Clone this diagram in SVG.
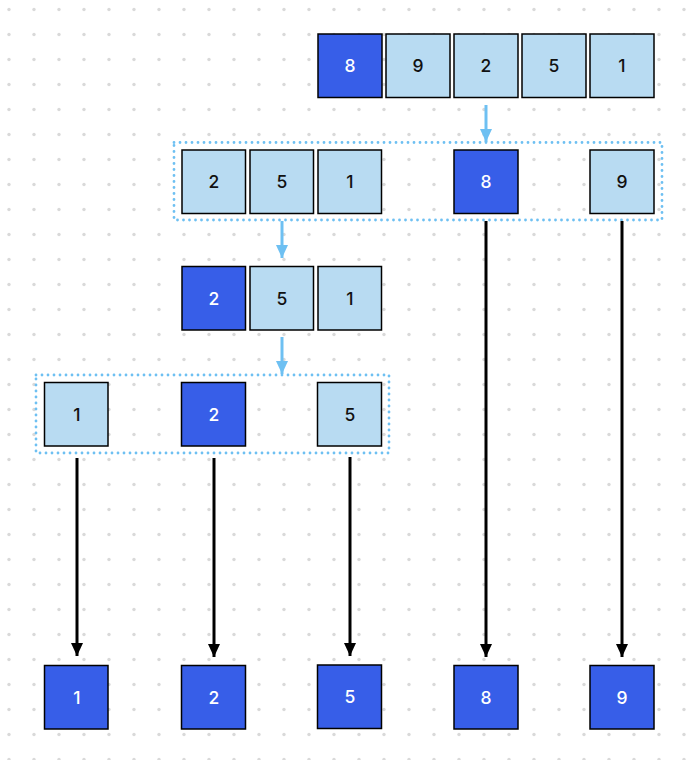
<svg xmlns="http://www.w3.org/2000/svg" width="692" height="760" viewBox="0 0 692 760">
  <defs>
    <pattern id="grid" width="25" height="25" patternUnits="userSpaceOnUse">
      <circle cx="9" cy="9.5" r="1.7" fill="#d9d9d9"/>
    </pattern>
    <marker id="headBlue" viewBox="0 0 13 12" refX="13" refY="6" markerWidth="13" markerHeight="12" markerUnits="userSpaceOnUse" orient="auto">
      <path d="M0,0 L13,6 L0,12 Z" fill="#6ec0f2"/>
    </marker>
    <marker id="headBlack" viewBox="0 0 13 12" refX="13" refY="6" markerWidth="13" markerHeight="12" markerUnits="userSpaceOnUse" orient="auto">
      <path d="M0,0 L13,6 L0,12 Z" fill="#000"/>
    </marker>
  </defs>
  <style>
    .cell rect { stroke: #000; stroke-width: 1.5; }
    .light rect { fill: #b8dbf2; }
    .dark rect { fill: #375ee8; }
    .cell text { font-family: Inter, "Noto Sans", sans-serif; font-size: 17.5px; font-weight: 500; text-anchor: middle; }
    .light text { fill: #111; }
    .dark text { fill: #fff; }
    .group { fill: none; stroke: #6ec0f2; stroke-width: 2.8; stroke-linecap: round; stroke-dasharray: 0 6; }
    .flow { stroke: #6ec0f2; stroke-width: 3; fill: none; }
    .drop { stroke: #000; stroke-width: 3; fill: none; }
  </style>

  <rect width="692" height="760" fill="#fff"/>
  <rect width="692" height="760" fill="url(#grid)"/>

  <!-- partition groups -->
  <g id="groups">
    <rect class="group" x="174" y="142.5" width="488" height="77.5"/>
    <rect class="group" x="36" y="375" width="353" height="78"/>
  </g>

  <!-- connectors -->
  <g id="connectors">
    <line class="flow" x1="486" y1="105" x2="486" y2="142" marker-end="url(#headBlue)"/>
    <line class="flow" x1="282" y1="221" x2="282" y2="258" marker-end="url(#headBlue)"/>
    <line class="flow" x1="282" y1="337" x2="282" y2="374" marker-end="url(#headBlue)"/>
    <line class="drop" x1="77" y1="458" x2="77" y2="656" marker-end="url(#headBlack)"/>
    <line class="drop" x1="214" y1="458" x2="214" y2="657" marker-end="url(#headBlack)"/>
    <line class="drop" x1="350" y1="457" x2="350" y2="656" marker-end="url(#headBlack)"/>
    <line class="drop" x1="486" y1="221" x2="486" y2="657" marker-end="url(#headBlack)"/>
    <line class="drop" x1="622" y1="221" x2="622" y2="657" marker-end="url(#headBlack)"/>
  </g>

  <!-- row 0: input array -->
  <g id="r0-8" class="cell dark"><rect x="318" y="34" width="64" height="63.5"/><text x="350" y="72">8</text></g>
  <g id="r0-9" class="cell light"><rect x="386" y="34" width="64" height="63.5"/><text x="418" y="72">9</text></g>
  <g id="r0-2" class="cell light"><rect x="454" y="34" width="64" height="63.5"/><text x="486" y="72">2</text></g>
  <g id="r0-5" class="cell light"><rect x="522" y="34" width="64" height="63.5"/><text x="554" y="72">5</text></g>
  <g id="r0-1" class="cell light"><rect x="590" y="34" width="64" height="63.5"/><text x="622" y="72">1</text></g>

  <!-- row 1: first partition -->
  <g id="r1-2" class="cell light"><rect x="182" y="150" width="63.5" height="63.5"/><text x="214" y="188">2</text></g>
  <g id="r1-5" class="cell light"><rect x="250" y="150" width="63.5" height="63.5"/><text x="282" y="188">5</text></g>
  <g id="r1-1" class="cell light"><rect x="318" y="150" width="63.5" height="63.5"/><text x="350" y="188">1</text></g>
  <g id="r1-8" class="cell dark"><rect x="454" y="150" width="64" height="63.5"/><text x="486" y="188">8</text></g>
  <g id="r1-9" class="cell light"><rect x="590" y="150" width="64" height="63.5"/><text x="622" y="188">9</text></g>

  <!-- row 2: left sub-array -->
  <g id="r2-2" class="cell dark"><rect x="182" y="266.5" width="63.5" height="63.5"/><text x="214" y="304.5">2</text></g>
  <g id="r2-5" class="cell light"><rect x="250" y="266.5" width="63.5" height="63.5"/><text x="282" y="304.5">5</text></g>
  <g id="r2-1" class="cell light"><rect x="318" y="266.5" width="63.5" height="63.5"/><text x="350" y="304.5">1</text></g>

  <!-- row 3: second partition -->
  <g id="r3-1" class="cell light"><rect x="44.5" y="382.5" width="63.5" height="63.5"/><text x="77" y="420.5">1</text></g>
  <g id="r3-2" class="cell dark"><rect x="181.5" y="382.5" width="64" height="63.5"/><text x="214" y="420.5">2</text></g>
  <g id="r3-5" class="cell light"><rect x="317.5" y="382.5" width="64" height="63.5"/><text x="350" y="420.5">5</text></g>

  <!-- sorted output -->
  <g id="out-1" class="cell dark"><rect x="44.5" y="665.5" width="63.5" height="63.5"/><text x="77" y="703.5">1</text></g>
  <g id="out-2" class="cell dark"><rect x="181.5" y="665.5" width="64" height="63.5"/><text x="214" y="703.5">2</text></g>
  <g id="out-5" class="cell dark"><rect x="317.5" y="665" width="64" height="63.5"/><text x="350" y="703">5</text></g>
  <g id="out-8" class="cell dark"><rect x="454" y="665.5" width="64" height="63.5"/><text x="486" y="703.5">8</text></g>
  <g id="out-9" class="cell dark"><rect x="590" y="665.5" width="64" height="63.5"/><text x="622" y="703.5">9</text></g>
</svg>
